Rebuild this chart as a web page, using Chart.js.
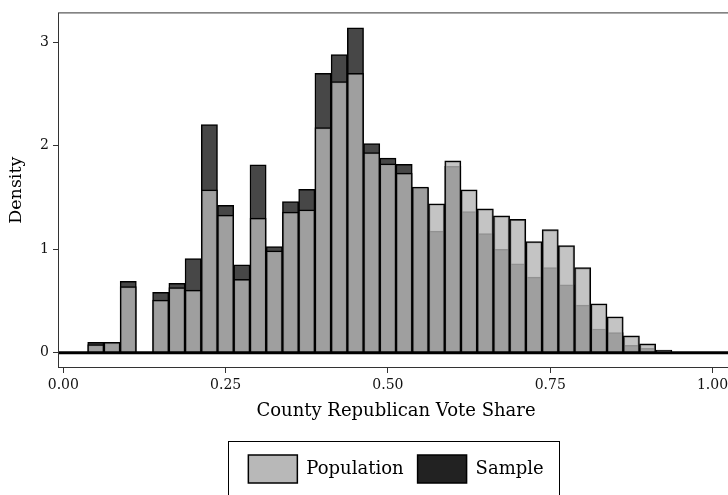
<!DOCTYPE html>
<html>
<head>
<meta charset="utf-8">
<script src="https://cdn.jsdelivr.net/npm/chart.js@4.4.1/dist/chart.umd.min.js"></script>
<style>
  html, body { margin: 0; padding: 0; background: #fff; overflow: hidden; }
  .chart-container { position: relative; width: 799px; height: 495px; }
</style>
</head>
<body>
<div class="chart-container"><canvas id="myChart"></canvas></div>
<script>
"use strict";

// DATA (histogram bins, width 0.025)
const binCenters = [
  0.05, 0.075, 0.1, 0.125, 0.15, 0.175, 0.2, 0.225, 0.25, 0.275,
  0.3, 0.325, 0.35, 0.375, 0.4, 0.425, 0.45, 0.475, 0.5, 0.525,
  0.55, 0.575, 0.6, 0.625, 0.65, 0.675, 0.7, 0.725, 0.75, 0.775,
  0.8, 0.825, 0.85, 0.875, 0.9, 0.925,
];
const population = [
  0.08, 0.1, 0.64, 0, 0.51, 0.63, 0.605, 1.575, 1.33, 0.71,
  1.3, 0.985, 1.36, 1.38, 2.175, 2.62, 2.7, 1.935, 1.825, 1.735,
  1.6, 1.44, 1.853, 1.575, 1.39, 1.322, 1.29, 1.075, 1.19, 1.036,
  0.822, 0.474, 0.348, 0.163, 0.086, 0.026,
];
const sample = [
  0.1, 0.1, 0.69, 0, 0.585, 0.67, 0.91, 2.205, 1.425, 0.85,
  1.815, 1.027, 1.46, 1.58, 2.7, 2.88, 3.14, 2.02, 1.88, 1.82,
  1.59, 1.175, 1.8, 1.363, 1.152, 1.0, 0.86, 0.731, 0.822, 0.656,
  0.46, 0.23, 0.194, 0.071, 0.042, 0,
];
const xTicks = [0, 0.25, 0.5, 0.75, 1];
const xTickLabels = ["0.00", "0.25", "0.50", "0.75", "1.00"];
const yTicks = [0, 1, 2, 3];
const yTickLabels = ["0", "1", "2", "3"];

const FONT = "'DejaVu Serif', serif";
Chart.defaults.font.family = FONT;

const ctx = document.getElementById("myChart");
const toPoints = (values) => binCenters.map((x, i) => ({ x: x, y: values[i] }));

// legend keys look a little different from the bar fills
const legendFills = ["#b8b8b8", "#222222"];

// panel frame, thick zero line, box around legend
const framePlugin = {
  id: "frame",
  afterDatasetsDraw(chart) {
    const { ctx, chartArea: a, scales } = chart;
    const y0 = scales.y.getPixelForValue(0);
    ctx.save();
    ctx.strokeStyle = "#000";
    ctx.lineWidth = 3;
    ctx.beginPath();
    ctx.moveTo(a.left, y0);
    ctx.lineTo(a.right, y0);
    ctx.stroke();
    ctx.strokeStyle = "#333";
    ctx.lineWidth = 1;
    ctx.strokeRect(a.left + 0.5, a.top + 0.5, a.right - a.left - 1, a.bottom - a.top - 1);
    ctx.restore();
  },
  afterDraw(chart) {
    const legend = chart.legend;
    const boxes = legend.legendHitBoxes;
    if (!boxes || !boxes.length) return;
    const first = boxes[0];
    const last = boxes[boxes.length - 1];
    const c = chart.ctx;
    c.save();
    c.strokeStyle = "#000";
    c.lineWidth = 1;
    c.strokeRect(
      Math.round(first.left - 20) + 0.5,
      Math.round(legend.top) + 0.5,
      Math.round(last.left + last.width - first.left + 36),
      legend.height + 20
    );
    c.restore();
  },
};

const barDefaults = {
  borderColor: "#000",
  borderWidth: 1.5,
  grouped: false,
  barPercentage: 1,
  categoryPercentage: 1,
};

// CHART
const chart = new Chart(ctx, {
  type: "bar",
  data: {
    datasets: [
      {
        ...barDefaults,
        label: "Population",
        data: toPoints(population),
        backgroundColor: "rgba(181, 181, 181, 0.8)",
        order: 0,
      },
      {
        ...barDefaults,
        label: "Sample",
        data: toPoints(sample),
        backgroundColor: "#474747",
        order: 1,
      },
    ],
  },
  options: {
    responsive: true,
    maintainAspectRatio: false,
    animation: false,
    layout: { padding: { top: 9, left: 0, right: 65, bottom: 2 } },
    plugins: {
      tooltip: { enabled: false },
      legend: {
        position: "bottom",
        fullSize: false,
        labels: {
          boxWidth: 49,
          boxHeight: 28,
          padding: 14,
          color: "#000",
          font: { family: FONT, size: 18 },
          generateLabels: (chart) =>
            Chart.defaults.plugins.legend.labels.generateLabels(chart).map((item, i) => {
              item.fillStyle = legendFills[i];
              return item;
            }),
        },
      },
    },
    scales: {
      x: {
        type: "linear",
        offset: false,
        min: -0.0082,
        max: 1.0331,
        afterBuildTicks: (scale) => {
          scale.ticks = xTicks.map((v) => ({ value: v }));
        },
        afterFit: (scale) => {
          scale.height = 73;
        },
        ticks: {
          callback: (value, index) => xTickLabels[index],
          color: "#111",
          font: { family: FONT, size: 14 },
          padding: 4,
          maxRotation: 0,
          autoSkip: false,
        },
        grid: {
          offset: false,
          drawOnChartArea: false,
          tickLength: 5,
          color: "#333",
          lineWidth: 1,
        },
        border: { display: false },
        title: {
          display: true,
          text: "County Republican Vote Share",
          color: "#000",
          font: { family: FONT, size: 18 },
          padding: { top: 4, bottom: 19 },
        },
      },
      y: {
        type: "linear",
        min: -0.147,
        max: 3.288,
        afterBuildTicks: (scale) => {
          scale.ticks = yTicks.map((v) => ({ value: v }));
        },
        afterFit: (scale) => {
          scale.width = 58;
        },
        ticks: {
          callback: (value, index) => yTickLabels[index],
          color: "#111",
          font: { family: FONT, size: 14 },
          padding: 4,
        },
        grid: {
          drawOnChartArea: false,
          tickLength: 5,
          color: "#333",
          lineWidth: 1,
        },
        border: { display: false },
        title: {
          display: true,
          text: "Density",
          color: "#000",
          font: { family: FONT, size: 17.5 },
          padding: { top: 6, bottom: 0 },
        },
      },
    },
  },
  plugins: [framePlugin],
});
</script>
</body>
</html>
